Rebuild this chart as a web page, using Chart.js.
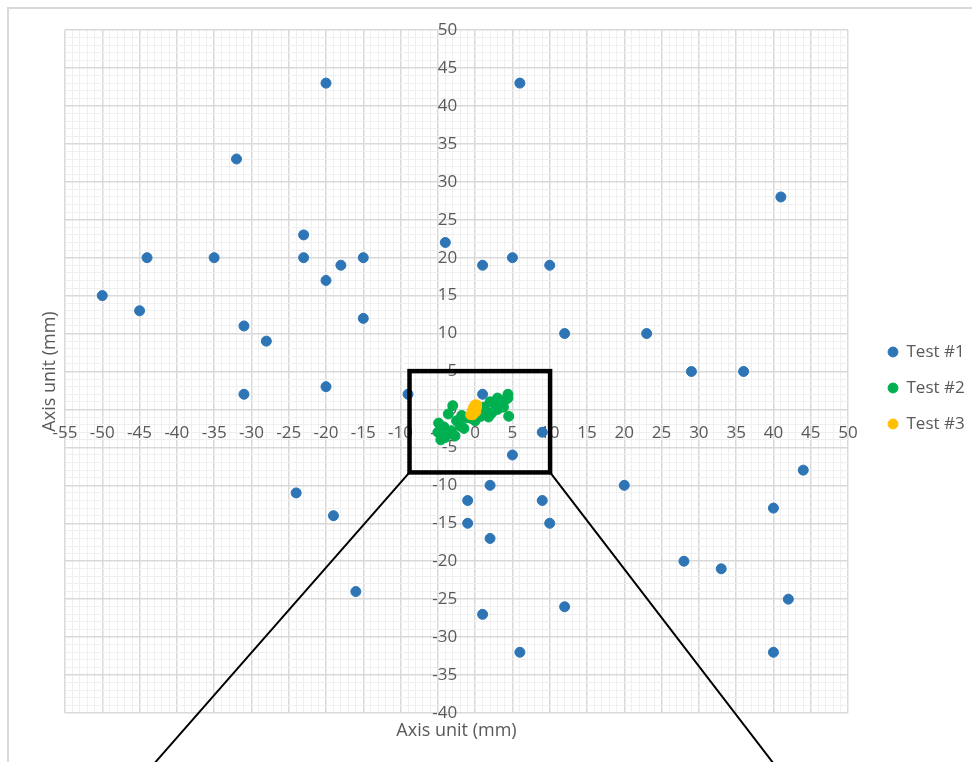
<!DOCTYPE html>
<html><head><meta charset="utf-8">
<script src="https://cdn.jsdelivr.net/npm/chart.js@4.4.0/dist/chart.umd.min.js"></script>
<style>
html,body{margin:0;padding:0;background:#fff;}
#wrap{position:relative;width:972px;height:762px;overflow:hidden;}
#frame{position:absolute;left:7px;top:6.5px;width:1000px;height:1000px;border:2px solid #d9d9d9;box-sizing:border-box;}
canvas{position:absolute;left:0;top:0;}
</style></head><body>
<div id="wrap"><div id="frame"></div><canvas id="c" width="972" height="762"></canvas></div>
<script>
// ---- data ----
const seriesNames = ['Test #1', 'Test #2', 'Test #3'];
const test1X = [-20, 6, -32, 41, -23, -4, -44, -35, -23, -18, -15, 1, 5, 10, -20, -50, -45, -15, -31, -28, 12, 23, 29, 36, -20, -31, -9, 1, 9, 5, 44, -24, 2, 20, -1, 9, -19, -1, 10, 40, 2, 28, 33, -16, 42, 1, 12, 6, 40];
const test1Y = [43, 43, 33, 28, 23, 22, 20, 20, 20, 19, 20, 19, 20, 19, 17, 15, 13, 12, 11, 9, 10, 10, 5, 5, 3, 2, 2, 2, -3, -6, -8, -11, -10, -10, -12, -12, -14, -15, -15, -13, -17, -20, -21, -24, -25, -27, -26, -32, -32];
const test2X = [-4.9, -5, -4.6, -4, -4.2, -3.6, -3, -3.2, -2.7, -2.5, -2, -1.8, -1.5, -1.2, -0.5, 0, 0.5, 0.8, 1.2, 1.5, 1.8, 2.2, 2, 2.5, 3, 3, 3.5, 3.8, 4, 4.4, 4.4, 4.5];
const test2Y = [-1.8, -3, -4, -3.7, -2.3, -0.6, 0.5, -2.8, -3.5, -1.5, -2.2, -0.8, -2.5, -1.1, -1.2, -1.5, -0.5, -0.9, 0.3, -0.3, -1, -0.5, 1, 0.8, 1.5, 0, 0.8, 0.3, 1.2, 2, 1.5, -0.9];
const test3X = [-0.6, -0.4, -0.2, 0, 0.2, 0.1, -0.3, 0.2];
const test3Y = [-0.7, -0.2, 0.3, 0.6, 0.3, -0.3, -0.7, 0.6];
const xRange = [-55, 50];
const yRange = [-40, 50];
const majorStep = 5;
const minorStep = 1;
const axisTitle = 'Axis unit (mm)';
const calloutBoxX = [-8.8, 10.05];
const calloutBoxY = [-8.3, 5.05];
const calloutEndX = [-42.9, 39.9];
const calloutEndY = -46.5;

// ---- styles ----
const colors = ['#2e75b6', '#00b050', '#ffc000'];
const textColor = '#595959';
const majorGrid = '#d9d9d9';
const minorGrid = '#efefef';
Chart.defaults.font.family = "'Open Sans', sans-serif";

const toPoints = (xs, ys) => xs.map((x, i) => ({x, y: ys[i]}));
const seriesData = [toPoints(test1X, test1Y), toPoints(test2X, test2Y), toPoints(test3X, test3Y)];

const calloutPlugin = {
  id: 'callout',
  afterDatasetsDraw(chart) {
    const {ctx} = chart; const xs = chart.scales.x, ys = chart.scales.y;
    const l = xs.getPixelForValue(calloutBoxX[0]), r = xs.getPixelForValue(calloutBoxX[1]);
    const t = ys.getPixelForValue(calloutBoxY[1]), b = ys.getPixelForValue(calloutBoxY[0]);
    const ey = ys.getPixelForValue(calloutEndY);
    ctx.save();
    ctx.strokeStyle = '#000';
    ctx.lineWidth = 2;
    ctx.beginPath();
    ctx.moveTo(l, b); ctx.lineTo(xs.getPixelForValue(calloutEndX[0]), ey);
    ctx.moveTo(r, b); ctx.lineTo(xs.getPixelForValue(calloutEndX[1]), ey);
    ctx.stroke();
    ctx.lineWidth = 4.5;
    ctx.strokeRect(l, t, r - l, b - t);
    ctx.restore();
  }
};

const gridColor = c => (c.tick && c.tick.value % majorStep === 0) ? majorGrid : minorGrid;
const gridWidth = c => (c.tick && c.tick.value % majorStep === 0) ? 1.5 : 1;

new Chart(document.getElementById('c'), {
  type: 'scatter',
  data: {
    datasets: seriesData.map((d, i) => ({
      label: seriesNames[i], data: d,
      backgroundColor: colors[i], borderColor: colors[i],
      pointRadius: 5, pointBorderWidth: 1, borderWidth: 1, pointHoverRadius: 5,
      pointStyle: 'circle', order: 3 - i
    }))
  },
  options: {
    responsive: false, animation: false,
    layout: {padding: {top: 30, left: 0, right: 0, bottom: 16}},
    plugins: {
      tooltip: {enabled: false},
      legend: {
        position: 'right', align: 'center', maxWidth: 103,
        labels: {
          usePointStyle: true, pointStyle: 'circle', boxWidth: 10, boxHeight: 7, padding: 19,
          font: {size: 17}, color: textColor,
          sort: (a, b) => a.datasetIndex - b.datasetIndex
        }
      }
    },
    scales: {
      xg: {
        type: 'linear', axis: 'x', position: 'bottom', min: xRange[0], max: xRange[1],
        ticks: {display: false, stepSize: minorStep},
        grid: {color: gridColor, lineWidth: gridWidth, drawTicks: false},
        border: {display: false},
        title: {display: true, text: axisTitle, color: textColor, font: {size: 18}, padding: {top: 0, bottom: 4}},
        afterFit: s => { s.height = 33; }
      },
      yg: {
        type: 'linear', axis: 'y', position: 'left', min: yRange[0], max: yRange[1],
        ticks: {display: false, stepSize: minorStep},
        grid: {color: gridColor, lineWidth: gridWidth, drawTicks: false},
        border: {display: false},
        title: {display: true, text: axisTitle, color: textColor, font: {size: 18}, padding: {top: 39, bottom: 0}},
        afterFit: s => { s.width = 65; }
      },
      ysp: {
        type: 'linear', axis: 'y', position: 'right',
        ticks: {display: false}, grid: {display: false, drawTicks: false}, border: {display: false},
        afterFit: s => { s.width = 21; }
      },
      x: {
        type: 'linear', position: {y: 0}, min: xRange[0], max: xRange[1],
        ticks: {stepSize: majorStep, color: textColor, font: {size: 17}, padding: 14, maxRotation: 0, autoSkip: false},
        grid: {display: false, drawTicks: false}, border: {display: false}
      },
      y: {
        type: 'linear', position: {x: -2.4}, min: yRange[0], max: yRange[1],
        ticks: {stepSize: majorStep, color: textColor, font: {size: 17}, autoSkip: false},
        grid: {display: false, drawTicks: false}, border: {display: false}
      }
    }
  },
  plugins: [calloutPlugin]
});
</script>
</body></html>
